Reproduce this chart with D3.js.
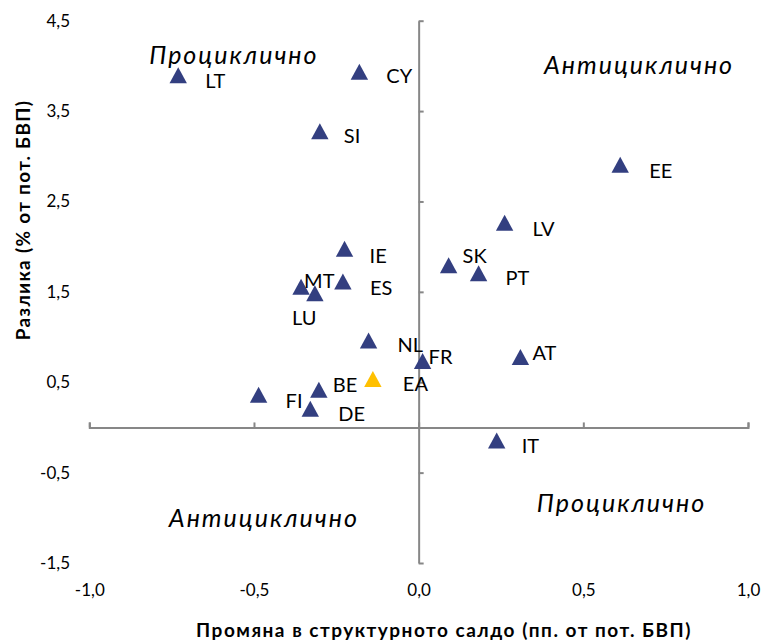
<!DOCTYPE html>
<html>
<head>
<meta charset="utf-8">
<script src="https://cdn.jsdelivr.net/npm/d3@7"></script>
<style>
  html, body { margin: 0; padding: 0; background: #fff; }
  svg { display: block; }
  text { font-family: Lato, "Open Sans", "Noto Sans", sans-serif; fill: #000; }
</style>
</head>
<body>
<svg id="chart" width="767" height="644"></svg>
<script>
// ---- Data ----
const countries = ["LT","CY","SI","IE","ES","MT","LU","EE","LV","SK","PT","NL","FR","AT","IT","BE","FI","DE","EA"];
const changeStructBalance = [-0.73,-0.18,-0.30,-0.225,-0.23,-0.357,-0.315,0.612,0.261,0.091,0.182,-0.152,0.012,0.309,0.237,-0.303,-0.486,-0.329,-0.139];
const gapPotGdp = [3.89,3.93,3.27,1.97,1.61,1.55,1.48,2.90,2.26,1.79,1.70,0.955,0.73,0.775,-0.15,0.41,0.355,0.20,0.53];
const xTicks = [-1.0,-0.5,0.0,0.5,1.0];
const yTicks = [-1.5,-0.5,0.5,1.5,2.5,3.5,4.5];
const quadrantLabels = ["Проциклично","Антициклично","Антициклично","Проциклично"];
const quadrantX = [-0.561, 0.669, -0.470, 0.616];
const quadrantY = [4.02, 3.91, -1.10, -0.935];
const xTitle = "Промяна в структурното салдо (пп. от пот. БВП)";
const yTitle = "Разлика (% от пот. БВП)";

// ---- Presentation ----
const labelOffsets = {
  LT:[27,4], CY:[27,3], SI:[24,3], IE:[25,6], ES:[27,5], MT:[3,-7], LU:[-23,23],
  EE:[29,5], LV:[28,5], SK:[14,-11], PT:[27,3], NL:[29,3], FR:[6,-5], AT:[12,-5],
  IT:[25,4], BE:[14,-6], FI:[27,5], DE:[28,4], EA:[30,3]
};
const navy = "#333F80", gold = "#FFC000", axisColor = "#878787";

const svg = d3.select("#chart");
const x = d3.scaleLinear().domain([-1, 1]).range([89.3, 748]);
const y = d3.scaleLinear().domain([-1.5, 4.5]).range([563, 20.7]);

const loc = d3.formatLocale({decimal: ",", thousands: " ", grouping: [3], currency: ["", ""], minus: "-"});
const fmt = loc.format(".1f");

// X axis line at y=0 with ticks pointing up
const gx = svg.append("g").attr("transform", `translate(0,${y(0)})`)
  .call(d3.axisTop(x).tickValues(xTicks).tickFormat("").tickSizeInner(5).tickSizeOuter(5));
// Y axis line at x=0 with ticks pointing right
const gy = svg.append("g").attr("transform", `translate(${x(0)},0)`)
  .call(d3.axisRight(y).tickValues(yTicks).tickFormat("").tickSizeInner(5).tickSizeOuter(0));
[gx, gy].forEach(g => {
  g.selectAll("path.domain").attr("stroke", axisColor).attr("stroke-width", 2);
  g.selectAll(".tick line").attr("stroke", axisColor).attr("stroke-width", 2);
});

// Tick labels (low position)
const lx = svg.append("g").attr("transform", `translate(0,584)`)
  .call(d3.axisBottom(x).tickValues(xTicks).tickFormat(fmt).tickSize(0).tickPadding(0));
lx.select(".domain").remove();
lx.selectAll("text").attr("font-size", 17).attr("font-family", "Lato, 'Open Sans', sans-serif").attr("dy", "0.71em");

const ly = svg.append("g").attr("transform", `translate(70,0)`)
  .call(d3.axisLeft(y).tickValues(yTicks).tickFormat(fmt).tickSize(0).tickPadding(0));
ly.select(".domain").remove();
ly.selectAll("text").attr("font-size", 17).attr("font-family", "Lato, 'Open Sans', sans-serif");

// Quadrant annotations
svg.append("g").selectAll("text").data(quadrantLabels).join("text")
  .attr("x", (d, i) => x(quadrantX[i]))
  .attr("y", (d, i) => y(quadrantY[i]))
  .attr("text-anchor", "middle")
  .attr("font-style", "italic")
  .attr("font-size", 25)
  .attr("letter-spacing", 2)
  .text(d => d);

// Markers
const pts = countries.map((c, i) => ({c, x: changeStructBalance[i], y: gapPotGdp[i]}));
const tri = "M0,-8.5L8.7,7.5L-8.7,7.5Z";
svg.append("g").selectAll("path").data(pts).join("path")
  .attr("d", tri)
  .attr("transform", d => `translate(${x(d.x)},${y(d.y)})`)
  .attr("fill", d => d.c === "EA" ? gold : navy);

// Data labels
svg.append("g").selectAll("text").data(pts).join("text")
  .attr("x", d => x(d.x) + labelOffsets[d.c][0])
  .attr("y", d => y(d.y) + labelOffsets[d.c][1])
  .attr("dominant-baseline", "central")
  .attr("font-size", 20)
  .text(d => d.c);

// Axis titles
svg.append("text")
  .attr("x", 444).attr("y", 637)
  .attr("text-anchor", "middle")
  .attr("font-weight", "bold").attr("font-size", 19)
  .attr("letter-spacing", 1.5)
  .text(xTitle);
svg.append("text")
  .attr("transform", `translate(22,220) rotate(-90)`)
  .attr("text-anchor", "middle").attr("dominant-baseline", "central")
  .attr("font-weight", "bold").attr("font-size", 19)
  .attr("letter-spacing", 1.3)
  .text(yTitle);
</script>
</body>
</html>
